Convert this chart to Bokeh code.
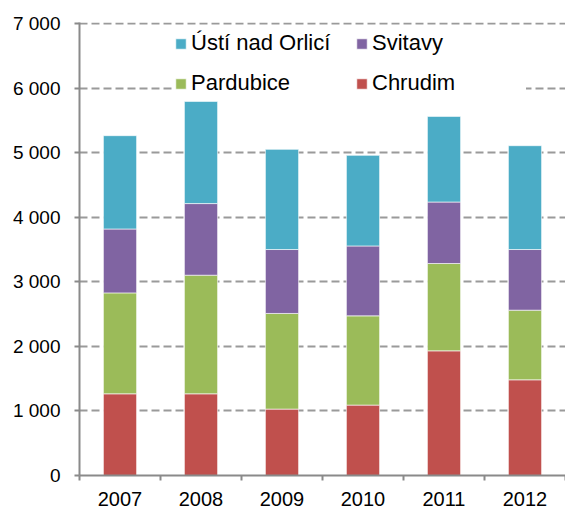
from bokeh.plotting import figure
from bokeh.models import ColumnDataSource, FixedTicker, Legend, LegendItem, Range1d
from bokeh.embed import file_html
from bokeh.resources import INLINE

# ---- data ----
years = ["2007", "2008", "2009", "2010", "2011", "2012"]
chrudim = [1266, 1266, 1029, 1091, 1932, 1483]
pardubice = [1564, 1838, 1482, 1383, 1353, 1079]
svitavy = [990, 1110, 991, 1083, 953, 940]
usti = [1446, 1583, 1552, 1404, 1327, 1609]
series_keys = ["chrudim", "pardubice", "svitavy", "usti"]
series_labels = ["Chrudim", "Pardubice", "Svitavy", "Ústí nad Orlicí"]
colors = ["#C0504D", "#9BBB59", "#8064A2", "#4BACC6"]
y_ticks = [0, 1000, 2000, 3000, 4000, 5000, 6000, 7000]

FONT = "Liberation Sans"
AXIS_GRAY = "#8a8a8a"

x_centers = [i + 0.5 for i in range(len(years))]
x_bounds = list(range(len(years) + 1))

source = ColumnDataSource(dict(x=x_centers, chrudim=chrudim, pardubice=pardubice,
                               svitavy=svitavy, usti=usti))

p = figure(width=565, height=509, output_backend="svg", toolbar_location=None,
           x_range=Range1d(0, len(years)), y_range=Range1d(0, 7020),
           min_border_left=79, min_border_right=0, min_border_top=22, min_border_bottom=34)
p.outline_line_color = None
p.background_fill_color = "white"

renderers = p.vbar_stack(series_keys, x="x", width=0.41, source=source,
                         fill_color=colors, line_color="white", line_alpha=0.6, line_width=1)

# y axis
p.yaxis.ticker = FixedTicker(ticks=y_ticks)
p.yaxis.major_label_overrides = {t: f"{t:,}".replace(",", " ") for t in y_ticks}
p.yaxis.major_label_text_font = FONT
p.yaxis.major_label_text_font_size = "19px"
p.yaxis.major_label_text_color = "black"
p.yaxis.major_label_standoff = 14
p.yaxis.major_tick_out = 5
p.yaxis.major_tick_in = 0
p.yaxis.minor_tick_line_color = None
p.yaxis.axis_line_color = AXIS_GRAY
p.yaxis.axis_line_width = 2
p.yaxis.major_tick_line_color = AXIS_GRAY
p.yaxis.major_tick_line_width = 2

# x axis
p.xaxis.ticker = FixedTicker(ticks=x_centers, minor_ticks=x_bounds)
p.xaxis.major_label_overrides = {xc: y for xc, y in zip(x_centers, years)}
p.xaxis.major_label_text_font = FONT
p.xaxis.major_label_text_font_size = "20px"
p.xaxis.major_label_text_color = "black"
p.xaxis.major_label_standoff = 11
p.xaxis.major_tick_line_color = None
p.xaxis.major_tick_out = 0
p.xaxis.major_tick_in = 0
p.xaxis.minor_tick_out = 5
p.xaxis.minor_tick_in = 0
p.xaxis.minor_tick_line_color = AXIS_GRAY
p.xaxis.minor_tick_line_width = 2
p.xaxis.axis_line_color = AXIS_GRAY
p.xaxis.axis_line_width = 2

# grid
p.xgrid.grid_line_color = None
p.ygrid.grid_line_color = "#9a9a9a"
p.ygrid.grid_line_dash = "8 4"
p.ygrid.grid_line_width = 2

# legend: column-major fill -> row 1: Ústí, Svitavy; row 2: Pardubice, Chrudim
order = [3, 1, 2, 0]
items = [LegendItem(label=series_labels[i], renderers=[renderers[i]]) for i in order]
legend = Legend(items=items, ncols=2, location=(95, 377),
                glyph_width=13, glyph_height=13, label_standoff=4,
                label_width=154, label_height=30, spacing=10, padding=3,
                border_line_color=None, background_fill_color="white", background_fill_alpha=1,
                label_text_font=FONT, label_text_font_size="22px", label_text_color="black")
p.add_layout(legend)

open("out.html", "w").write(file_html(p, INLINE))
